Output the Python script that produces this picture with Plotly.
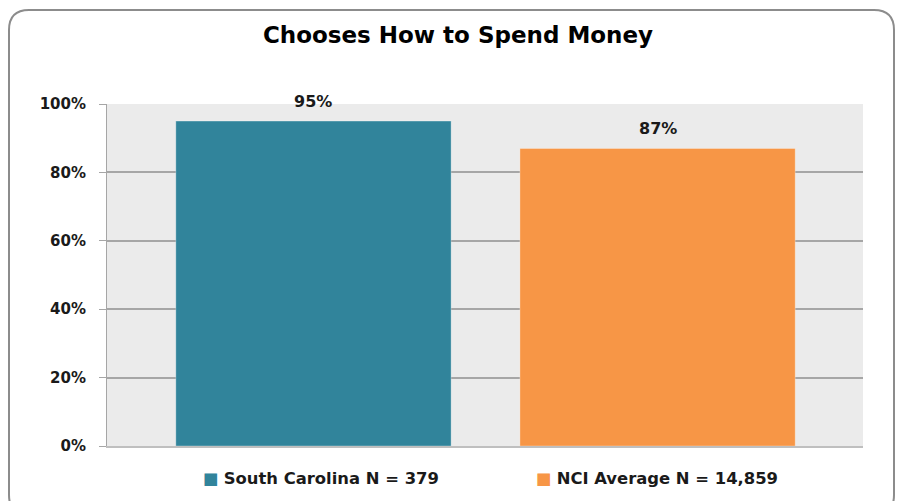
import plotly.graph_objects as go

categories = ["South Carolina", "NCI Average"]
legend_names = ["South Carolina N = 379", "NCI Average N = 14,859"]
values = [95, 87]
value_labels = ["95%", "87%"]
colors = ["#31849B", "#F79646"]
tick_vals = [0, 20, 40, 60, 80, 100]
tick_text = ["0%", "20%", "40%", "60%", "80%", "100%"]

FONT = "DejaVu Sans"
OFF = 8  # browser body margin
W, H = 903 - OFF, 501 - OFF
ml, mr, mt, mb = 107 - OFF, 40, 104 - OFF, 55
pw, ph = W - ml - mr, H - mt - mb


def px(x):  # reference-page x -> paper
    return (x - OFF - ml) / pw


def py(y):  # reference-page y -> paper
    return (H - mb - (y - OFF)) / ph


fig = go.Figure()
for cat, name, v, c in zip(categories, legend_names, values, colors):
    fig.add_trace(go.Bar(
        x=[cat], y=[v], name=name,
        marker=dict(color=c, line=dict(color="rgba(255,255,255,0.3)", width=1)),
        width=0.80, showlegend=False,
    ))

annotations = []
for cat, v, lab in zip(categories, values, value_labels):
    annotations.append(dict(x=cat, y=v, text=f"<b>{lab}</b>", showarrow=False,
                            yanchor="bottom", yshift=8,
                            font=dict(family=FONT, size=16, color="#1a1a1a")))

legend_x = [201, 534]
for lx, name, c in zip(legend_x, legend_names, colors):
    annotations.append(dict(
        x=px(lx), y=py(478), xref="paper", yref="paper", xanchor="left", yanchor="middle",
        text=f"<span style='color:{c}'>■</span> <b>{name}</b>", showarrow=False,
        font=dict(family=FONT, size=16.4, color="#1a1a1a")))

x0, x1, y0, y1, r = px(9), px(894), py(10), py(515), 20
rx, ry = r / pw, r / ph
path = (f"M {x0+rx},{y0} L {x1-rx},{y0} Q {x1},{y0} {x1},{y0-ry} "
        f"L {x1},{y1+ry} Q {x1},{y1} {x1-rx},{y1} L {x0+rx},{y1} Q {x0},{y1} {x0},{y1+ry} "
        f"L {x0},{y0-ry} Q {x0},{y0} {x0+rx},{y0} Z")

fig.update_layout(
    width=W, height=H,
    margin=dict(l=ml, r=mr, t=mt, b=mb),
    paper_bgcolor="white", plot_bgcolor="#EBEBEB",
    barmode="overlay",
    showlegend=False,
    title=dict(text="<b>Chooses How to Spend Money</b>", x=px(458), xref="paper",
               xanchor="center", y=1 - (35 - OFF) / H, yanchor="middle",
               font=dict(family=FONT, size=23, color="#000000")),
    font=dict(family=FONT, size=14, color="#1a1a1a"),
    xaxis=dict(showticklabels=False, showline=True, linecolor="#BFBFBF", linewidth=2,
               ticks="", showgrid=False, fixedrange=True,
               range=[-0.600, 1.597]),
    yaxis=dict(range=[0, 100], tickvals=tick_vals, ticktext=[f"<b>{t}</b>" for t in tick_text],
               showgrid=True, gridcolor="#A6A6A6", gridwidth=1.5,
               showline=True, linecolor="#A6A6A6", linewidth=1,
               ticks="outside", ticklen=7, tickcolor="#A6A6A6", tickwidth=1,
               ticklabelstandoff=10,
               tickfont=dict(family=FONT, size=15, color="#1a1a1a"), zeroline=False),
    annotations=annotations,
    shapes=[dict(type="path", path=path, xref="paper", yref="paper",
                 line=dict(color="#8C8C8C", width=2), fillcolor="rgba(0,0,0,0)", layer="below")],
)

fig.write_html("out.html")
